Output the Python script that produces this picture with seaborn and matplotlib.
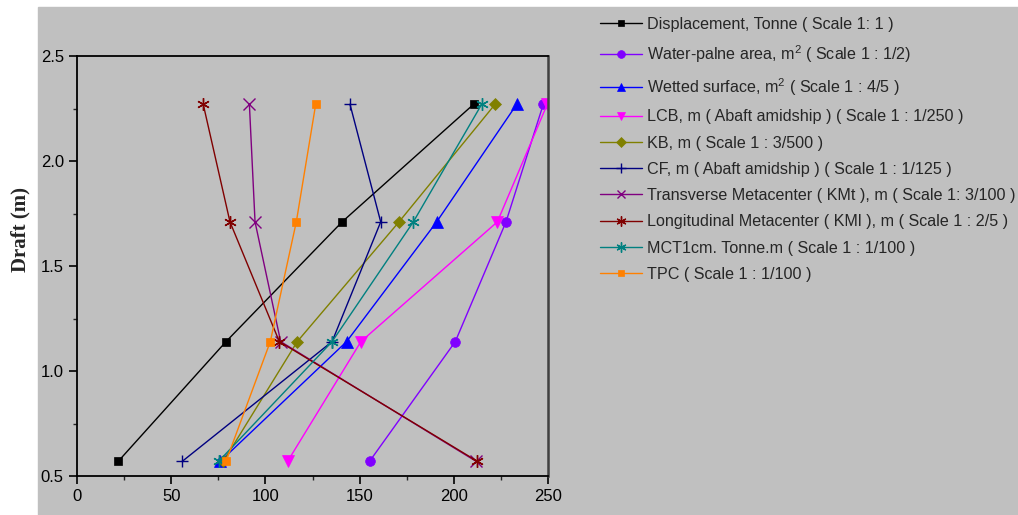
import matplotlib
matplotlib.use("Agg")
import matplotlib.pyplot as plt
from matplotlib.patches import Rectangle
from matplotlib.ticker import MultipleLocator
import seaborn as sns
import pandas as pd

sns.set_theme(style="ticks")
plt.rcParams['font.family'] = ['Liberation Sans', 'DejaVu Sans']
plt.rcParams['mathtext.fontset'] = 'custom'
plt.rcParams['mathtext.rm'] = 'Liberation Sans'

draft = [0.57, 1.14, 1.71, 2.27]

displacement = [21.9, 79.1, 140.7, 210.5]
waterplane = [155.3, 200.8, 227.7, 247.5]
wetted = [76.1, 143.1, 190.9, 233.4]
lcb = [111.8, 150.7, 223.1, 249.6]
kb = [77.7, 116.9, 170.9, 221.9]
cf = [55.9, 135.4, 161.2, 144.9]
kmt = [211.8, 108.1, 94.5, 91.5]
kml = [212.5, 107.4, 81.2, 67.0]
mct = [75.2, 135.4, 178.5, 214.8]
tpc = [79.1, 102.6, 116.4, 126.7]

labels = [
    "Displacement, Tonne ( Scale 1: 1 )",
    "Water-palne area, m$^2$ ( Scale 1 : 1/2)",
    "Wetted surface, m$^2$ ( Scale 1 : 4/5 )",
    "LCB, m ( Abaft amidship ) ( Scale 1 : 1/250 )",
    "KB, m ( Scale 1 : 3/500 )",
    "CF, m ( Abaft amidship ) ( Scale 1 : 1/125 )",
    "Transverse Metacenter ( KMt ), m ( Scale 1: 3/100 )",
    "Longitudinal Metacenter ( KMl ), m ( Scale 1 : 2/5 )",
    "MCT1cm. Tonne.m ( Scale 1 : 1/100 )",
    "TPC ( Scale 1 : 1/100 )",
]
series = [displacement, waterplane, wetted, lcb, kb, cf, kmt, kml, mct, tpc]

asterisk = (6, 2, 0)
styles = [
    dict(color="black", marker="s", ms=6),
    dict(color="#8000ff", marker="o", ms=7),
    dict(color="#0000ff", marker="^", ms=8),
    dict(color="#ff00ff", marker="v", ms=8),
    dict(color="#808000", marker="D", ms=6),
    dict(color="#000080", marker="+", ms=9),
    dict(color="#800080", marker="x", ms=8),
    dict(color="#800000", marker=asterisk, ms=9),
    dict(color="#008080", marker=asterisk, ms=9),
    dict(color="#ff8000", marker="s", ms=6),
]

W, H = 1018, 515
fig = plt.figure(figsize=(W / 100, H / 100), dpi=100)
fig.patch.set_facecolor("white")
fig.patches.append(Rectangle((38 / W, 0), 1 - 38 / W, 1 - 7 / H,
                             transform=fig.transFigure, color="#c0c0c0", zorder=-10))
ax = fig.add_axes([77 / W, 1 - 476 / H, (548 - 77) / W, (476 - 56) / H])
ax.set_facecolor("#c0c0c0")

for vals, lab, st in zip(series, labels, styles):
    df = pd.DataFrame({"x": vals, "y": draft})
    sns.lineplot(data=df, x="x", y="y", sort=False, estimator=None, ax=ax,
                 color=st["color"], marker=st["marker"], markersize=st["ms"],
                 markeredgecolor=st["color"], markeredgewidth=1.0 if st["marker"] in ("+", "x", asterisk) else 0.5,
                 linewidth=1.0, label=lab)

ax.set_xlim(0, 250)
ax.set_ylim(0.5, 2.5)
ax.xaxis.set_major_locator(MultipleLocator(50))
ax.xaxis.set_minor_locator(MultipleLocator(25))
ax.yaxis.set_major_locator(MultipleLocator(0.5))
ax.yaxis.set_minor_locator(MultipleLocator(0.25))
ax.yaxis.set_major_formatter(matplotlib.ticker.FormatStrFormatter("%.1f"))
ax.tick_params(which="major", direction="out", length=6, width=1.2, labelsize=12,
               colors="black", bottom=True, left=True, top=False, right=False)
ax.tick_params(which="minor", direction="out", length=3, width=1.0,
               bottom=True, left=True, top=False, right=False)
for side in ["left", "bottom", "top"]:
    ax.spines[side].set_color("black")
    ax.spines[side].set_linewidth(1.3)
ax.spines["right"].set_color("#404040")
ax.spines["right"].set_linewidth(1.8)
ax.set_xlabel("")
ax.set_ylabel("Draft (m)", fontsize=15, fontweight="bold", family="Liberation Serif")
ax.yaxis.set_label_coords(-0.098, 0.586)

ax.legend(loc="upper left", bbox_to_anchor=(600 / W, 1 - 17 / H),
          bbox_transform=fig.transFigure, frameon=False, fontsize=11.6,
          handlelength=2.6, handletextpad=0.3, labelspacing=0.70, borderpad=0,
          borderaxespad=0, markerscale=0.8)

fig.savefig("out.png", dpi=100, facecolor=fig.get_facecolor())
